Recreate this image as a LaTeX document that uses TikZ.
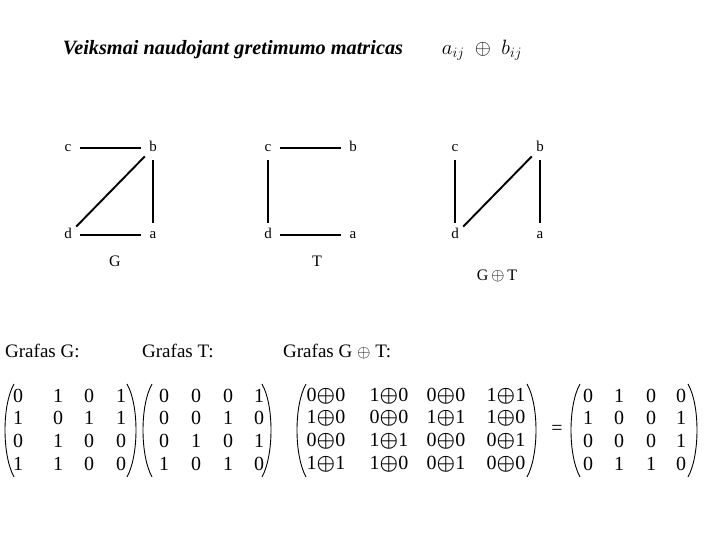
\documentclass[tikz,border=0pt]{standalone}
\usepackage{bm}
\usepackage{fontspec}
\setmainfont{Liberation Serif}
\begin{document}
\begin{tikzpicture}[x=1pt,y=-1pt,
  vtx/.style={circle,inner sep=0pt,minimum size=23pt,text height=7.5pt,text depth=0pt,font=\fontsize{15}{15}\selectfont},
  edge/.style={line width=1.9pt},
  lbl/.style={font=\fontsize{16}{16}\selectfont},
  ent/.style={inner sep=0pt,font=\fontsize{20}{20}\selectfont},
  hd/.style={inner sep=0pt,anchor=west,font=\fontsize{19}{19}\selectfont},
  par/.style={line width=0.9pt}]
\useasboundingbox (0,0) rectangle (720,540);
% title
\node[inner sep=0pt,font=\fontsize{20.3}{20.3}\selectfont\bfseries\itshape] (title) at (233,50) {Veiksmai naudojant gretimumo matricas};
\node[inner sep=0pt,font=\fontsize{20}{20}\selectfont] (formula) at (482,50) {$a_{ij}\;\oplus\;b_{ij}$};
% graph G
\node[vtx] (gc) at (68,148) {c};
\node[vtx] (gb) at (153,148) {b};
\node[vtx] (gd) at (68,235) {d};
\node[vtx] (ga) at (153,235) {a};
\draw[edge] (gc) -- (gb);
\draw[edge] (gb) -- (gd);
\draw[edge] (gb) -- (ga);
\draw[edge] (gd) -- (ga);
\node[lbl] (gl) at (115,261) {G};
% graph T
\node[vtx] (tc) at (268,148) {c};
\node[vtx] (tb) at (353,148) {b};
\node[vtx] (td) at (268,235) {d};
\node[vtx] (ta) at (353,235) {a};
\draw[edge] (tc) -- (tb);
\draw[edge] (tc) -- (td);
\draw[edge] (td) -- (ta);
\node[lbl] (tl) at (317,261) {T};
% graph G+T
\node[vtx] (xc) at (455,148) {c};
\node[vtx] (xb) at (540,148) {b};
\node[vtx] (xd) at (455,235) {d};
\node[vtx] (xa) at (540,235) {a};
\draw[edge] (xc) -- (xd);
\draw[edge] (xd) -- (xb);
\draw[edge] (xb) -- (xa);
\node[lbl] (xl) at (497,276) {G\,$\oplus$\,T};
% headings
\node[hd] (hG) at (5,351) {Grafas G:};
\node[hd] (hT) at (142,351) {Grafas T:};
\node[hd] (hX) at (283,352) {Grafas G $\oplus$ T:};
% matrix G
\foreach \r/\y in {1/396,2/418,3/441,4/464}{
  \foreach \c/\x in {1/18,2/58,3/89,4/121}{
    \coordinate (mg\r\c) at (\x,\y);
  }
}
\foreach \r/\row in {1/{0,1,0,1},2/{1,0,1,1},3/{0,1,0,0},4/{1,1,0,0}}{
  \foreach \v [count=\c] in \row { \node[ent] (eg\r\c) at (mg\r\c) {\v}; }
}
% matrix T
\foreach \r/\y in {1/396,2/418,3/441,4/464}{
  \foreach \c/\x in {1/164,2/196,3/228,4/259}{
    \coordinate (mt\r\c) at (\x,\y);
  }
}
\foreach \r/\row in {1/{0,0,0,1},2/{0,0,1,0},3/{0,1,0,1},4/{1,0,1,0}}{
  \foreach \v [count=\c] in \row { \node[ent] (et\r\c) at (mt\r\c) {\v}; }
}
% matrix G+T
\foreach \r/\y in {1/396,2/418,3/441,4/464}{
  \foreach \c/\x in {1/326,2/389,3/446,4/506}{
    \coordinate (mx\r\c) at (\x,\y);
  }
}
\foreach \r/\row in {1/{0/0,1/0,0/0,1/1},2/{1/0,0/0,1/1,1/0},3/{0/0,1/1,0/0,0/1},4/{1/1,1/0,0/1,0/0}}{
  \foreach \p/\q [count=\c] in \row { \node[ent] (ex\r\c) at (mx\r\c) {\p$\bm{\oplus}$\q}; }
}
\node[ent] (eq) at (557,430) {=};
% result matrix
\foreach \r/\y in {1/396,2/418,3/441,4/464}{
  \foreach \c/\x in {1/588,2/619,3/651,4/681}{
    \coordinate (mr\r\c) at (\x,\y);
  }
}
\foreach \r/\row in {1/{0,1,0,0},2/{1,0,0,1},3/{0,0,0,1},4/{0,1,1,0}}{
  \foreach \v [count=\c] in \row { \node[ent] (er\r\c) at (mr\r\c) {\v}; }
}
% parentheses
\foreach \lx/\rx in {4/137,142/272,296/537,570/698}{
  \draw[par] (\lx+10,384) .. controls (\lx-2,405) and (\lx-2,455) .. (\lx+10,477);
  \draw[par] (\rx-10,384) .. controls (\rx+2,405) and (\rx+2,455) .. (\rx-10,477);
}
\end{tikzpicture}
\end{document}
